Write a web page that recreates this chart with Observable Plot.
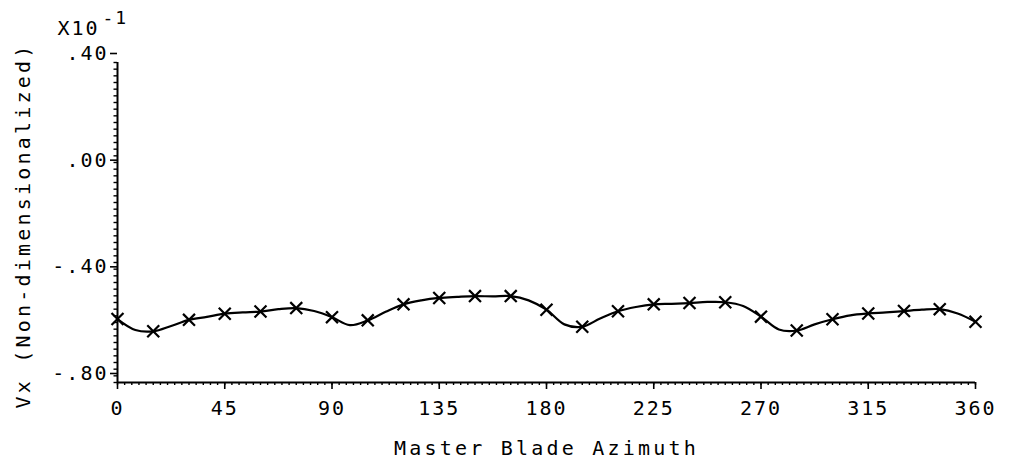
<!DOCTYPE html>
<html>
<head>
<meta charset="utf-8">
<script src="https://cdn.jsdelivr.net/npm/d3@7"></script>
<script src="https://cdn.jsdelivr.net/npm/@observablehq/plot@0.6"></script>
<style>
  body { margin: 0; background: #fff; }
  #chart svg { font-family: "DejaVu Sans Mono", "Liberation Mono", monospace; }
  #chart svg text { letter-spacing: 2px; }
</style>
</head>
<body>
<div id="chart"></div>
<script>
// Marked samples: master blade azimuth (deg) and Vx (x10^-1, non-dimensionalized)
const azimuth = [0, 15, 30, 45, 60, 75, 90, 105, 120, 135, 150, 165, 180,
                 195, 210, 225, 240, 255, 270, 285, 300, 315, 330, 345, 360];
const vx = [-0.562, -0.608, -0.565, -0.542, -0.534, -0.521, -0.555, -0.567, -0.507,
            -0.483, -0.476, -0.476, -0.527, -0.591, -0.533, -0.507, -0.502, -0.499,
            -0.553, -0.605, -0.563, -0.541, -0.532, -0.525, -0.572];

// Curve values between the marked samples
const midAzimuth = [7.5, 22.5, 37.5, 52.5, 67.5, 82.5, 97.5, 112.5, 127.5, 142.5, 157.5, 172.5,
                    187.5, 202.5, 217.5, 232.5, 247.5, 262.5, 277.5, 292.5, 307.5, 322.5, 337.5, 352.5];
const midVx = [-0.603, -0.588, -0.554, -0.537, -0.525, -0.532, -0.585, -0.535, -0.492, -0.479,
               -0.477, -0.492, -0.582, -0.560, -0.517, -0.505, -0.498, -0.513, -0.601, -0.582,
               -0.548, -0.537, -0.527, -0.541];

// Axis ticks
const xTicks = [0, 45, 90, 135, 180, 225, 270, 315, 360];
const xMinorTicks = d3.range(0, 361, 3);
const yTicks = [-0.8, -0.4, 0, 0.4];
const yMinorTicks = d3.range(-0.8, 0.4001, 0.025);

// Titles
const xTitle = "Master Blade Azimuth";
const yTitle = "Vx (Non-dimensionalized)";
const scaleNote = "X10";
const scaleExponent = "-1";

const markers = azimuth.map((a, i) => ({azimuth: a, vx: vx[i]}));
const curve = markers
  .concat(midAzimuth.map((a, i) => ({azimuth: a, vx: midVx[i]})))
  .sort((a, b) => a.azimuth - b.azimuth);

// ".40", ".00", "-.40", "-.80"
const yFormat = (d) => (d < 0 ? "-" : "") + d3.format(".2f")(Math.abs(d)).replace(/^0\./, ".");

const chart = Plot.plot({
  width: 1026,
  height: 465,
  marginLeft: 117,
  marginRight: 51,
  marginTop: 62,
  marginBottom: 83,
  style: {fontSize: "20px", color: "#000", background: "#fff"},
  x: {domain: [0, 360]},
  y: {domain: [-0.8, 0.4]},
  marks: [
    // minor ticks
    Plot.axisX(xMinorTicks, {tickSize: 3, text: null, label: null, strokeWidth: 1.4}),
    Plot.axisY(yMinorTicks, {tickSize: 3.5, text: null, label: null, strokeWidth: 1.4}),
    // major ticks and tick labels
    Plot.axisX(xTicks, {tickSize: 7, tickPadding: 11, strokeWidth: 1.6, fontSize: 20, label: null}),
    Plot.axisY(yTicks, {tickSize: 7, tickPadding: 2, strokeWidth: 1.6, fontSize: 20, dy: -9,
      tickFormat: yFormat, label: null}),
    // axis lines
    Plot.ruleX([0], {strokeWidth: 2}),
    Plot.ruleY([-0.8], {strokeWidth: 2}),
    // axis titles
    Plot.text([xTitle], {frameAnchor: "bottom", dy: 66, textAnchor: "middle", lineAnchor: "middle",
      fontSize: 20}),
    Plot.text([yTitle], {frameAnchor: "left", dx: -94, dy: 3, rotate: -90, textAnchor: "middle",
      lineAnchor: "middle", fontSize: 20}),
    // scale note
    Plot.text([scaleNote], {frameAnchor: "top-left", dx: -60, dy: -42, textAnchor: "start",
      fontSize: 20}),
    Plot.text([scaleExponent], {frameAnchor: "top-left", dx: -15, dy: -51, textAnchor: "start",
      fontSize: 18}),
    // data
    Plot.line(curve, {x: "azimuth", y: "vx", curve: "catmull-rom", stroke: "#000", strokeWidth: 2.2}),
    Plot.dot(markers, {x: "azimuth", y: "vx", symbol: "times", r: 5.5, stroke: "#000", strokeWidth: 2.2})
  ]
});

// wider tracking for the axis titles
d3.select(chart).selectAll("text")
  .filter(function () { return this.textContent === xTitle || this.textContent === yTitle; })
  .style("letter-spacing", "3.2px");

document.getElementById("chart").append(chart);
</script>
</body>
</html>
